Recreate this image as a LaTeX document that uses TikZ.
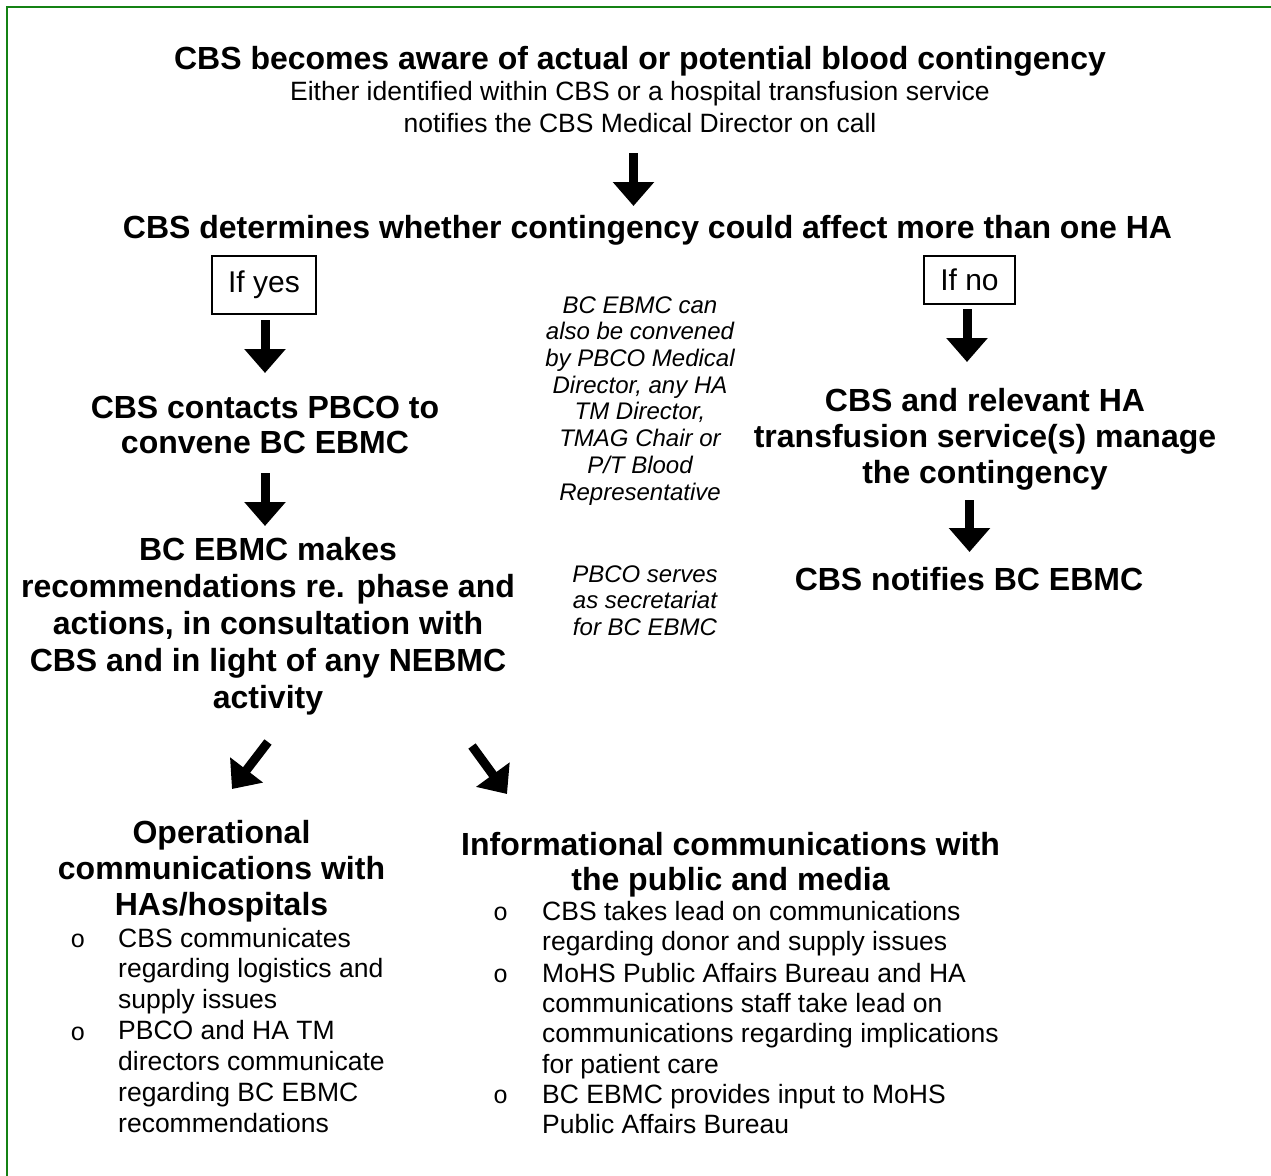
\documentclass[tikz,border=0pt]{standalone}
\usepackage{fontspec}
\setmainfont{Liberation Sans}
\newfontfamily\bulletfont{Liberation Mono}
\usetikzlibrary{arrows.meta}
\definecolor{framegreen}{RGB}{20,130,20}
\begin{document}
\begin{tikzpicture}[x=1pt,y=-1pt,
  hb/.style={font=\bfseries\fontsize{32}{36.8}\selectfont, align=center, inner sep=0, anchor=base},
  sub/.style={font=\fontsize{26.5}{32}\selectfont, align=center, inner sep=0, anchor=base},
  note/.style={font=\itshape\fontsize{24}{26.7}\selectfont, align=center, inner sep=0, anchor=base},
  ifbox/.style={draw, line width=1.3pt, inner sep=0, font=\fontsize{30}{34}\selectfont},
  bul/.style={font=\fontsize{26.5}{30.7}\selectfont, align=left, inner sep=0, anchor=base west},
  bulr/.style={bul, font=\fontsize{26.5}{30.3}\selectfont},
  bulmark/.style={font=\bulletfont\fontsize{25}{30}\selectfont, inner sep=0, anchor=base},
  blockarrow/.style={line width=9pt, -{Triangle[width=40pt,length=24pt]}}
]
\useasboundingbox (0,0) rectangle (1271,1175);
\draw[framegreen, line width=2pt] (7,1200) -- (7,7) -- (1290,7);

% texts (multi-line nodes: base anchor = baseline of last line)
\node[hb] (title) at (640,69) {CBS becomes aware of actual or potential blood contingency};
\node[sub] (subtitle) at (640,132) {Either identified within CBS or a hospital transfusion service\\notifies the CBS Medical Director on call};
\node[hb] (determine) at (647.5,238) {CBS determines whether contingency could affect more than one HA};
\node[ifbox, minimum width=104, minimum height=58] (yes) at (264,285) {If yes};
\node[ifbox, minimum width=91, minimum height=48] (no) at (969.5,280) {If no};
\node[hb, font=\bfseries\fontsize{32}{35}\selectfont] (contacts) at (265,453) {CBS contacts PBCO to\\convene BC EBMC};
\node[hb, font=\bfseries\fontsize{32}{36}\selectfont] (manage) at (985,483) {CBS and relevant HA\\transfusion service(s) manage\\the contingency};
\node[hb] (makes) at (268,708) {BC EBMC makes\\recommendations re. phase and\\actions, in consultation with\\CBS and in light of any NEBMC\\activity};
\node[hb] (notify) at (969,590) {CBS notifies BC EBMC};
\node[note] (convened) at (640,500) {BC EBMC can\\also be convened\\by PBCO Medical\\Director, any HA\\TM Director,\\TMAG Chair or\\P/T Blood\\Representative};
\node[note] (secretariat) at (645,635.5) {PBCO serves\\as secretariat\\for BC EBMC};
\node[hb, font=\bfseries\fontsize{32}{36}\selectfont] (oper) at (221.5,915) {Operational\\communications with\\HAs/hospitals};
\node[hb, font=\bfseries\fontsize{32}{35}\selectfont] (info) at (730.5,890) {Informational communications with\\the public and media};

% left bullets
\node[bulmark] (lm1) at (78,947) {o};
\node[bul] (lb1) at (118,1008.4) {CBS communicates\\regarding logistics and\\supply issues};
\node[bulmark] (lm2) at (78,1040) {o};
\node[bul] (lb2) at (118,1132) {PBCO and HA TM\\directors communicate\\regarding BC EBMC\\recommendations};

% right bullets
\node[bulmark] (rm1) at (500.5,920) {o};
\node[bulr] (rb1) at (542,950.3) {CBS takes lead on communications\\regarding donor and supply issues};
\node[bulmark] (rm2) at (500.5,982) {o};
\node[bulr] (rb2) at (542,1073) {MoHS Public Affairs Bureau and HA\\communications staff take lead on\\communications regarding implications\\for patient care};
\node[bulmark] (rm3) at (500.5,1103) {o};
\node[bulr] (rb3) at (542,1133.3) {BC EBMC provides input to MoHS\\Public Affairs Bureau};

% arrow end points
\coordinate (a1s) at (633.5,153); \coordinate (a1e) at (633.5,206);
\coordinate (a2s) at (265,320);   \coordinate (a2e) at (265,373);
\coordinate (a3s) at (265,473);   \coordinate (a3e) at (265,526);
\coordinate (a4s) at (967,309);   \coordinate (a4e) at (967,362);
\coordinate (a5s) at (969.5,500); \coordinate (a5e) at (969.5,552);
\coordinate (a6s) at (268,742);   \coordinate (a6e) at (232,789);
\coordinate (a7s) at (472,746);   \coordinate (a7e) at (507,794);

\draw[blockarrow] (a1s) -- (a1e);
\draw[blockarrow] (a2s) -- (a2e);
\draw[blockarrow] (a3s) -- (a3e);
\draw[blockarrow] (a4s) -- (a4e);
\draw[blockarrow] (a5s) -- (a5e);
\draw[blockarrow] (a6s) -- (a6e);
\draw[blockarrow] (a7s) -- (a7e);
\end{tikzpicture}
\end{document}
